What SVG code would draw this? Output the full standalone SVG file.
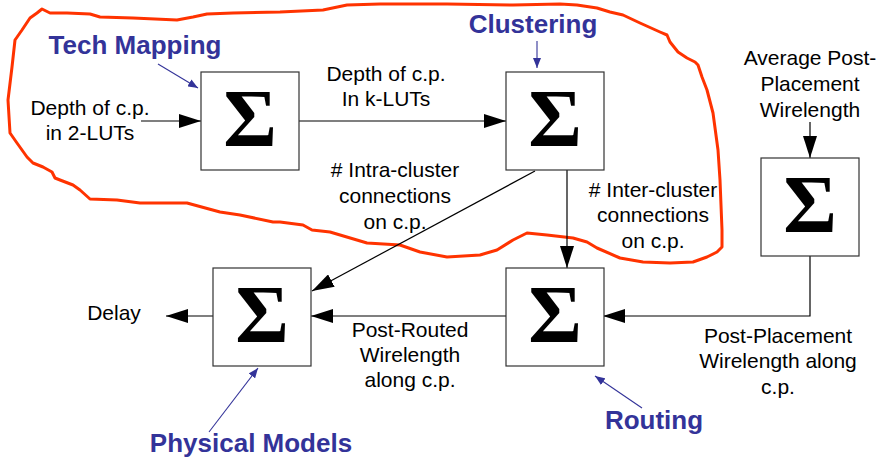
<svg xmlns="http://www.w3.org/2000/svg" width="883" height="461" viewBox="0 0 883 461">
<defs>
<style>
.box{fill:#fff;stroke:#333;stroke-width:1.2}
.sig{font-family:"Liberation Serif","DejaVu Serif",serif;font-weight:bold;font-size:82px;text-anchor:middle;fill:#000}
.lbl{font-family:"Liberation Sans",Arial,sans-serif;font-size:21px;text-anchor:middle;fill:#000}
.stage{font-family:"Liberation Sans",Arial,sans-serif;font-size:26px;font-weight:bold;text-anchor:middle;fill:#333399}
.con{fill:none;stroke:#000;stroke-width:1.2}
.bcon{fill:none;stroke:#333399;stroke-width:1.1}
</style>
<marker id="ah" markerUnits="userSpaceOnUse" markerWidth="22" markerHeight="14" refX="22" refY="7" orient="auto">
<path d="M0,0 L22,7 L0,14 z" fill="#000"/>
</marker>
<marker id="bh" markerUnits="userSpaceOnUse" markerWidth="10" markerHeight="8" refX="10" refY="4" orient="auto">
<path d="M0,0 L10,4 L0,8 z" fill="#333399"/>
</marker>
</defs>
<rect width="883" height="461" fill="#fff"/>

<g id="outline">
<path d="M42,9 L50,13 L67,13 L90,14 L100,17 L133,18 L177,20 L193,17 L207,14 L233,13 L280,12 L323,10 L347,5 L380,4 L447,4 L513,5 L560,4 L577,5 L597,8 L610,12 L623,15 L640,23 L660,32 L667,35 L670,42 L678,52 L687,58 L695,62 L698,65 L702,77 L707,90 L713,113 L718,150 L720,180 L722,230 L722,247 L717,252 L707,257 L693,262 L670,263 L643,262 L620,258 L597,248 L587,242 L573,238 L547,235 L527,233 L513,240 L497,250 L480,255 L447,257 L420,252 L400,245 L367,243 L330,232 L312,230 L303,225 L280,222 L273,222 L240,215 L220,212 L187,203 L140,203 L117,200 L90,199 L80,190 L73,185 L60,180 L55,178 L52,172 L43,167 L33,163 L27,157 L17,143 L10,133 L8,100 L12,67 L15,40 L22,30 L30,18 L37,13 Z" fill="none" stroke="#ff3300" stroke-width="3" stroke-linejoin="round"/>
</g>

<g id="connectors">
<path class="con" d="M141,121 H201" marker-end="url(#ah)"/>
<path class="con" d="M299,121 H506" marker-end="url(#ah)"/>
<path class="con" d="M567,170 V268" marker-end="url(#ah)"/>
<path class="con" d="M535,171 L312,291" marker-end="url(#ah)"/>
<path class="con" d="M810,256 V316 H603" marker-end="url(#ah)"/>
<path class="con" d="M506,316 H311" marker-end="url(#ah)"/>
<path class="con" d="M213,316 H166" marker-end="url(#ah)"/>
<path class="con" d="M810,122 V158" marker-end="url(#ah)"/>
<path class="bcon" d="M158,64 L198,88" marker-end="url(#bh)"/>
<path class="bcon" d="M537,41 V68" marker-end="url(#bh)"/>
<path class="bcon" d="M209,432 L258,368" marker-end="url(#bh)"/>
<path class="bcon" d="M642,408 L595,376" marker-end="url(#bh)"/>
</g>

<g id="techmap">
<rect class="box" x="201" y="72" width="98" height="98"/>
<text class="sig" x="250" y="146">Σ</text>
</g>
<g id="clustering">
<rect class="box" x="506" y="72" width="98" height="98"/>
<text class="sig" x="555" y="146">Σ</text>
</g>
<g id="placement">
<rect class="box" x="761" y="158" width="98" height="98"/>
<text class="sig" x="810" y="232">Σ</text>
</g>
<g id="routing">
<rect class="box" x="506" y="268" width="98" height="98"/>
<text class="sig" x="555" y="342">Σ</text>
</g>
<g id="physical">
<rect class="box" x="213" y="268" width="98" height="98"/>
<text class="sig" x="262" y="342">Σ</text>
</g>

<g id="labels">
<text class="stage" x="135" y="54">Tech Mapping</text>
<text class="stage" x="533" y="33">Clustering</text>
<text class="stage" x="251" y="452">Physical Models</text>
<text class="stage" x="654" y="429">Routing</text>

<text class="lbl" x="90" y="115">Depth of c.p.</text>
<text class="lbl" x="90" y="140">in 2-LUTs</text>
<text class="lbl" x="386" y="81">Depth of c.p.</text>
<text class="lbl" x="386" y="106">In k-LUTs</text>
<text class="lbl" x="395" y="177"># Intra-cluster</text>
<text class="lbl" x="395" y="203">connections</text>
<text class="lbl" x="395" y="229">on c.p.</text>
<text class="lbl" x="810" y="65">Average Post-</text>
<text class="lbl" x="810" y="91">Placement</text>
<text class="lbl" x="810" y="117">Wirelength</text>
<text class="lbl" x="653" y="197"># Inter-cluster</text>
<text class="lbl" x="653" y="222">connections</text>
<text class="lbl" x="653" y="248">on c.p.</text>
<text class="lbl" x="114" y="320">Delay</text>
<text class="lbl" x="410" y="337">Post-Routed</text>
<text class="lbl" x="410" y="362">Wirelength</text>
<text class="lbl" x="410" y="387">along c.p.</text>
<text class="lbl" x="778" y="343">Post-Placement</text>
<text class="lbl" x="778" y="368">Wirelength along</text>
<text class="lbl" x="778" y="394">c.p.</text>
</g>
</svg>
